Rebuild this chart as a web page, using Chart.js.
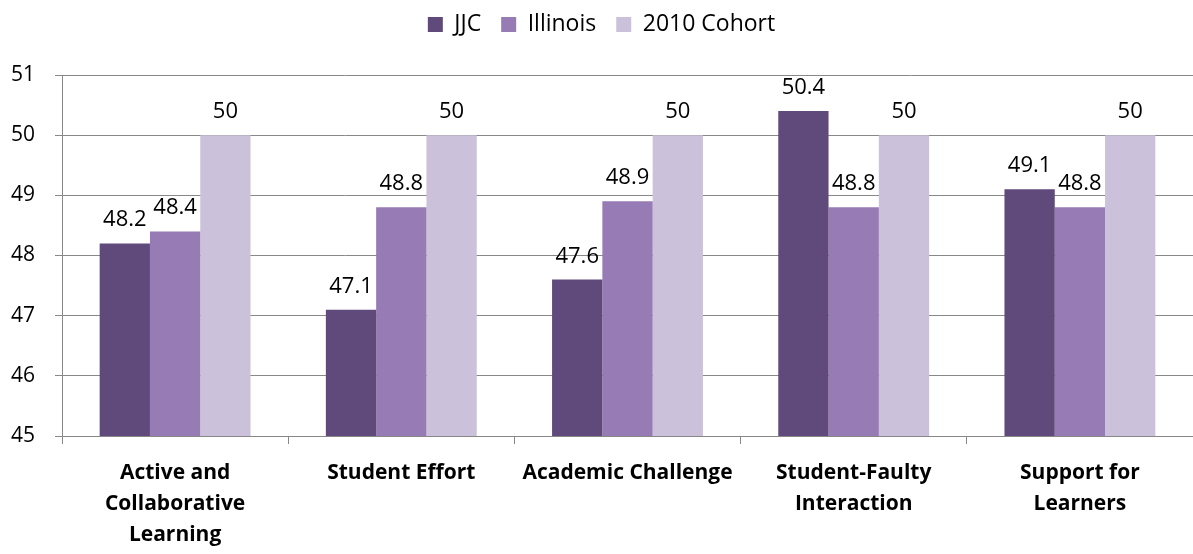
<!DOCTYPE html>
<html>
<head>
<meta charset="utf-8">
<script src="https://cdn.jsdelivr.net/npm/chart.js@4/dist/chart.umd.min.js"></script>
<style>
  html, body { margin: 0; padding: 0; background: #fff; }
  #wrap { width: 1193px; height: 554px; }
</style>
</head>
<body>
<div id="wrap"><canvas id="myChart"></canvas></div>
<script>
// categories and series
const categories = [
  ['Active and', 'Collaborative', 'Learning'],
  'Student Effort',
  'Academic Challenge',
  ['Student-Faulty', 'Interaction'],
  ['Support for', 'Learners']
];
const jjc = [48.2, 47.1, 47.6, 50.4, 49.1];
const illinois = [48.4, 48.8, 48.9, 48.8, 48.8];
const cohort2010 = [50, 50, 50, 50, 50];
const yTicks = [45, 46, 47, 48, 49, 50, 51];

const FONT = "'Open Sans', sans-serif";

// draws the value above every bar
const valueLabels = {
  id: 'valueLabels',
  afterDatasetsDraw(chart) {
    const ctx = chart.ctx;
    ctx.save();
    ctx.font = '22px ' + FONT;
    ctx.fillStyle = '#000';
    ctx.textAlign = 'center';
    ctx.textBaseline = 'alphabetic';
    chart.data.datasets.forEach(function (ds, i) {
      chart.getDatasetMeta(i).data.forEach(function (bar, j) {
        ctx.fillText(String(ds.data[j]), bar.x, bar.y - 17);
      });
    });
    ctx.restore();
  }
};

// leave room under the legend
const legendMargin = {
  id: 'legendMargin',
  beforeInit(chart) {
    const fit = chart.legend.fit;
    chart.legend.fit = function () {
      fit.bind(chart.legend)();
      this.height = 82;
    };
  }
};

const data = {
  labels: categories,
  datasets: [{
    label: 'JJC',
    backgroundColor: '#604A7B',
    data: jjc
  }, {
    label: 'Illinois',
    backgroundColor: '#967BB4',
    data: illinois
  }, {
    label: '2010 Cohort',
    backgroundColor: '#CCC1DA',
    data: cohort2010
  }]
};

const config = {
  type: 'bar',
  data: data,
  options: {
    responsive: true,
    maintainAspectRatio: false,
    animation: false,
    categoryPercentage: 0.667,
    barPercentage: 1,
    layout: {
      padding: { top: -7, right: -10, left: 0, bottom: 0 }
    },
    plugins: {
      legend: {
        position: 'top',
        labels: {
          boxWidth: 15,
          boxHeight: 15,
          padding: 20,
          color: '#000',
          font: { family: FONT, size: 23 }
        }
      },
      tooltip: { enabled: false }
    },
    scales: {
      x: {
        afterFit(scale) { scale.height = 118; },
        grid: {
          offset: true,
          drawOnChartArea: false,
          tickLength: 8,
          color: '#888'
        },
        border: { color: '#888', width: 1 },
        ticks: {
          maxRotation: 0,
          minRotation: 0,
          autoSkip: false,
          padding: 13,
          color: '#000',
          font: { family: FONT, size: 21, weight: 'bold', lineHeight: 1.48 }
        }
      },
      y: {
        min: yTicks[0],
        max: yTicks[yTicks.length - 1],
        afterBuildTicks(scale) {
          scale.ticks = yTicks.map(function (v) { return { value: v }; });
        },
        afterFit(scale) { scale.width = 62; },
        grid: { color: '#888', tickLength: 7 },
        border: { color: '#888', width: 1 },
        ticks: {
          padding: 20,
          color: '#000',
          font: { family: FONT, size: 21 }
        }
      }
    }
  },
  plugins: [valueLabels, legendMargin]
};

const myChart = new Chart(document.getElementById('myChart'), config);
</script>
</body>
</html>
